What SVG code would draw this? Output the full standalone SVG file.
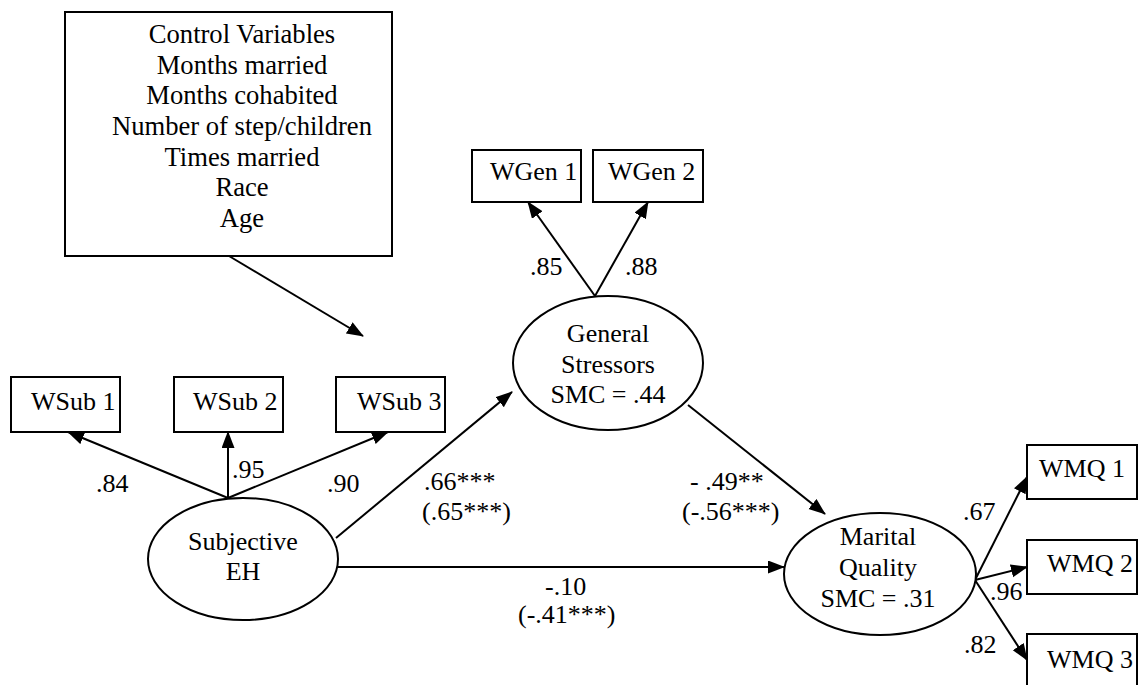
<svg xmlns="http://www.w3.org/2000/svg" width="1139" height="685" viewBox="0 0 1139 685">
  <defs>
    <marker id="arrow" markerUnits="userSpaceOnUse" markerWidth="17" markerHeight="14" refX="16" refY="6.5" orient="auto">
      <path d="M0,0 L17,6.5 L0,13 z" fill="#000"/>
    </marker>
    <style>
      .box { fill: #fff; stroke: #000; stroke-width: 2; }
      .latent { fill: #fff; stroke: #000; stroke-width: 2; }
      .t { font-family: 'Liberation Serif', serif; font-size: 26px; fill: #000; }
      .big { font-size: 26.6px; }
      .mid { text-anchor: middle; }
      #connectors line { stroke: #000; stroke-width: 2; marker-end: url(#arrow); }
    </style>
  </defs>
  <rect width="1139" height="685" fill="#fff"/>

  <!-- path connectors -->
  <g id="connectors">
    <line x1="229" y1="256" x2="363" y2="336"/>
    <line x1="228" y1="498" x2="68" y2="432"/>
    <line x1="228" y1="498" x2="228" y2="432"/>
    <line x1="228" y1="498" x2="388" y2="432"/>
    <line x1="336" y1="538" x2="512" y2="392"/>
    <line x1="337" y1="567" x2="784" y2="567"/>
    <line x1="595" y1="296" x2="528" y2="202"/>
    <line x1="595" y1="296" x2="648" y2="202"/>
    <line x1="688" y1="405" x2="825" y2="514"/>
    <line x1="975" y1="580" x2="1027" y2="477"/>
    <line x1="975" y1="580" x2="1027" y2="567"/>
    <line x1="975" y1="580" x2="1027" y2="660"/>
  </g>

  <!-- coefficient labels -->
  <g id="labels">
    <text class="t" x="530" y="275">.85</text>
    <text class="t" x="625" y="275">.88</text>
    <text class="t" x="96" y="492">.84</text>
    <text class="t" x="232" y="478">.95</text>
    <text class="t" x="327" y="492">.90</text>
    <text class="t" x="424" y="490">.66***</text>
    <text class="t" x="422" y="520">(.65***)</text>
    <text class="t" x="690" y="490">- .49**</text>
    <text class="t" x="682" y="520">(-.56***)</text>
    <text class="t" x="545" y="595">-.10</text>
    <text class="t" x="518" y="623">(-.41***)</text>
    <text class="t" x="963" y="520">.67</text>
    <text class="t" x="990" y="600">.96</text>
    <text class="t" x="964" y="653">.82</text>
  </g>

  <g id="controls">
    <rect class="box" x="65" y="12" width="327" height="244"/>
    <text class="t big mid" x="242" y="43">Control Variables</text>
    <text class="t big mid" x="242" y="74">Months married</text>
    <text class="t big mid" x="242" y="104">Months cohabited</text>
    <text class="t big mid" x="242" y="135">Number of step/children</text>
    <text class="t big mid" x="242" y="166">Times married</text>
    <text class="t big mid" x="242" y="196">Race</text>
    <text class="t big mid" x="242" y="227">Age</text>
  </g>

  <g id="wgen1">
    <rect class="box" x="472" y="150" width="109" height="52"/>
    <text class="t" x="490" y="180">WGen 1</text>
  </g>
  <g id="wgen2">
    <rect class="box" x="593" y="150" width="110" height="52"/>
    <text class="t" x="608" y="180">WGen 2</text>
  </g>

  <g id="wsub1">
    <rect class="box" x="11" y="377" width="109" height="55"/>
    <text class="t" x="31" y="410">WSub 1</text>
  </g>
  <g id="wsub2">
    <rect class="box" x="174" y="377" width="109" height="55"/>
    <text class="t" x="193" y="410">WSub 2</text>
  </g>
  <g id="wsub3">
    <rect class="box" x="336" y="377" width="109" height="55"/>
    <text class="t" x="357" y="410">WSub 3</text>
  </g>

  <g id="general-stressors">
    <ellipse class="latent" cx="608" cy="363" rx="95" ry="67"/>
    <text class="t mid" x="608" y="342">General</text>
    <text class="t mid" x="608" y="373">Stressors</text>
    <text class="t mid" x="608" y="403">SMC = .44</text>
  </g>

  <g id="subjective-eh">
    <ellipse class="latent" cx="243" cy="559" rx="95" ry="61"/>
    <text class="t mid" x="243" y="550">Subjective</text>
    <text class="t mid" x="243" y="580">EH</text>
  </g>

  <g id="marital-quality">
    <ellipse class="latent" cx="880" cy="574" rx="96" ry="61"/>
    <text class="t mid" x="878" y="545">Marital</text>
    <text class="t mid" x="878" y="576">Quality</text>
    <text class="t mid" x="878" y="607">SMC = .31</text>
  </g>

  <g id="wmq1">
    <rect class="box" x="1027" y="445" width="110" height="54"/>
    <text class="t" x="1039" y="477">WMQ 1</text>
  </g>
  <g id="wmq2">
    <rect class="box" x="1027" y="540" width="110" height="54"/>
    <text class="t" x="1047" y="572">WMQ 2</text>
  </g>
  <g id="wmq3">
    <rect class="box" x="1027" y="634" width="110" height="54"/>
    <text class="t" x="1047" y="668">WMQ 3</text>
  </g>
</svg>
